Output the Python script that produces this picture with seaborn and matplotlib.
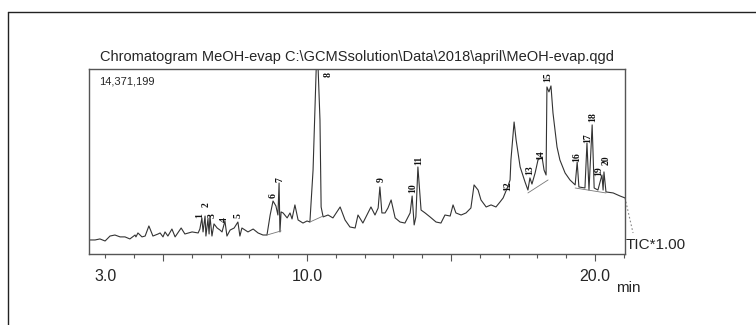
import numpy as np
import matplotlib
matplotlib.use("Agg")
import matplotlib.pyplot as plt
from matplotlib.ticker import MultipleLocator
from matplotlib.lines import Line2D
import seaborn as sns
import pandas as pd

sns.set_style('ticks')
plt.rcParams['font.family'] = ['Liberation Sans', 'DejaVu Sans']

# retention time (min) and TIC intensity (% of 14,371,199)
time_min = [2.43, 2.64, 2.81, 2.99, 3.16, 3.33, 3.51, 3.68, 3.85, 4.03, 4.06, 4.13, 4.27, 4.38, 4.51,
            4.65, 4.83, 4.90, 5.00, 5.07, 5.17, 5.31, 5.42, 5.63, 5.76, 6.01, 6.22, 6.28, 6.35, 6.39,
            6.46, 6.49, 6.56, 6.60, 6.63, 6.70, 6.77, 6.88, 6.98, 7.05, 7.15, 7.22, 7.33, 7.47, 7.60,
            7.67, 7.74, 7.95, 8.13, 8.30, 8.47, 8.61, 8.72, 8.82, 8.92, 8.99, 9.03, 9.06, 9.10, 9.17,
            9.31, 9.41, 9.48, 9.58, 9.69, 9.86, 10.00, 10.10, 10.21, 10.35, 10.45, 10.49, 10.56, 10.73,
            10.90, 11.15, 11.32, 11.49, 11.67, 11.77, 11.94, 12.08, 12.22, 12.36, 12.47, 12.53, 12.60,
            12.71, 12.81, 12.92, 13.06, 13.23, 13.40, 13.58, 13.65, 13.72, 13.78, 13.85, 13.96, 14.10,
            14.27, 14.48, 14.65, 14.79, 14.97, 15.07, 15.17, 15.35, 15.52, 15.69, 15.80, 15.94, 16.04,
            16.22, 16.39, 16.56, 16.70, 16.81, 16.88, 16.98, 17.05, 17.08, 17.19, 17.26, 17.40, 17.57,
            17.67, 17.74, 17.81, 17.92, 18.02, 18.16, 18.23, 18.30, 18.33, 18.40, 18.47, 18.54, 18.68,
            18.78, 18.96, 19.13, 19.31, 19.38, 19.44, 19.65, 19.72, 19.79, 19.90, 19.97, 20.10, 20.24,
            20.28, 20.31, 20.38, 20.63, 20.87, 21.04]
intensity = [0.0, 0.0, 0.6, -0.6, 2.3, 2.9, 1.8, 1.8, 0.6, 2.9, 1.8, 4.1, 1.8, 2.3, 8.2,
             2.3, 3.5, 4.1, 1.8, 4.7, 2.3, 6.4, 1.8, 7.0, 3.5, 4.7, 4.1, 6.4, 12.9, 4.7,
             14.0, 2.3, 12.3, 3.5, 14.0, 2.3, 9.4, 7.0, 5.8, 4.7, 11.1, 2.3, 5.8, 7.0, 10.5,
             2.3, 7.0, 4.7, 6.4, 4.1, 2.9, 2.9, 14.6, 22.8, 19.9, 14.6, 33.3, 4.7, 16.4, 15.8,
             12.9, 15.8, 12.3, 20.5, 11.7, 9.9, 11.1, 10.5, 40.9, 117.0, 70.2, 19.3, 13.5, 14.6,
             12.9, 19.3, 11.7, 7.6, 7.0, 14.6, 9.9, 14.6, 19.3, 14.6, 18.7, 31.0, 15.8,
             15.8, 18.7, 23.4, 12.9, 10.5, 9.9, 15.8, 25.7, 8.8, 13.5, 42.7, 17.5, 15.8,
             13.5, 10.5, 9.9, 14.6, 14.0, 20.5, 15.8, 14.6, 15.8, 18.7, 32.2, 29.2, 23.4,
             19.3, 20.5, 19.3, 22.2, 24.6, 27.5, 31.6, 35.1, 46.8, 69.0, 58.5, 42.7, 33.9,
             29.2, 36.3, 32.7, 39.2, 46.8, 48.5, 40.9, 38.0, 89.5, 86.6, 90.1, 74.3, 54.4,
             46.8, 39.2, 35.1, 32.2, 45.6, 31.0, 30.4, 56.7, 29.2, 67.3, 30.4, 29.2, 38.0,
             29.2, 39.8, 28.1, 27.5, 25.7, 24.6]

# tail past the end of the run (dotted)
tail_time = [21.04, 21.32]
tail_int = [24.6, 4.1]

# integration baselines drawn under some peaks
base_start_t = [8.61, 10.10, 17.67, 19.31]
base_start_i = [2.9, 10.5, 27.5, 30.4]
base_end_t = [9.10, 10.56, 18.37, 20.38]
base_end_i = [5.3, 14.0, 35.1, 27.5]

# peak numbers and label positions
peak_ids = [str(i) for i in range(1, 21)]
peak_time = [6.26, 6.48, 6.70, 7.12, 7.60, 8.82, 9.06, 10.73, 12.57, 13.68,
             13.89, 16.98, 17.74, 18.13, 18.37, 19.38, 19.76, 19.93, 20.13, 20.37]
peak_label_y = [14.5, 20.5, 14.5, 11.7, 14.0, 25.7, 35.1, 97.0, 35.1, 30.4,
                46.8, 31.6, 40.9, 49.7, 95.0, 48.5, 59.6, 71.9, 40.5, 46.5]

df = pd.DataFrame({'time': time_min, 'intensity': intensity})

fig = plt.figure(figsize=(7.56, 3.25), dpi=100)
ax = fig.add_axes([0.1177, 0.2185, 0.709, 0.5692])

sns.lineplot(data=df, x='time', y='intensity', ax=ax, color='#333333', lw=0.8, estimator=None)
ax.plot(tail_time, tail_int, ls=(0, (1.5, 2)), color='#888888', lw=0.8, clip_on=False)
for t0, i0, t1, i1 in zip(base_start_t, base_start_i, base_end_t, base_end_i):
    ax.plot([t0, t1], [i0, i1], color='#777777', lw=0.6)

for pid, t, y in zip(peak_ids, peak_time, peak_label_y):
    ax.text(t, y, pid, rotation=90, ha='center', va='center', fontsize=7,
            family=['Liberation Serif', 'DejaVu Serif'], fontweight='bold', color='#111111')

ax.set_xlim(2.43, 21.04)
ax.set_ylim(-8.2, 100)
ax.set_xticks([3, 5, 10, 15, 20], labels=['3.0', '', '10.0', '', '20.0'])
ax.xaxis.set_minor_locator(MultipleLocator(1))
ax.tick_params(axis='x', which='major', length=5, width=0.8, color='#555555', pad=6, labelsize=11.5)
ax.tick_params(axis='x', which='minor', length=3, width=0.8, color='#555555')
ax.xaxis.get_major_ticks()[0].tick1line.set_markersize(3)
ax.set_yticks([])
ax.set_xlabel('')
ax.set_ylabel('')
for s in ax.spines.values():
    s.set_visible(True)
    s.set_color('#555555')
    s.set_linewidth(1.0)

ax.set_title(r'Chromatogram MeOH-evap C:\GCMSsolution\Data\2018\april\MeOH-evap.qgd',
             fontsize=10.5, pad=6)
ax.text(0.018, 0.93, '14,371,199', transform=ax.transAxes, fontsize=8, va='center', ha='left')
fig.text(0.828, 0.246, 'TIC*1.00', fontsize=11, ha='left', va='center')
fig.text(0.831, 0.114, 'min', fontsize=11, ha='center', va='center')

# outer frame
fig.add_artist(Line2D([8 / 756, 1], [1 - 12 / 325, 1 - 12 / 325], color='#222222', lw=1.0))
fig.add_artist(Line2D([8 / 756, 8 / 756], [0, 1 - 12 / 325], color='#222222', lw=1.0))

fig.savefig('out.png', dpi=100)
